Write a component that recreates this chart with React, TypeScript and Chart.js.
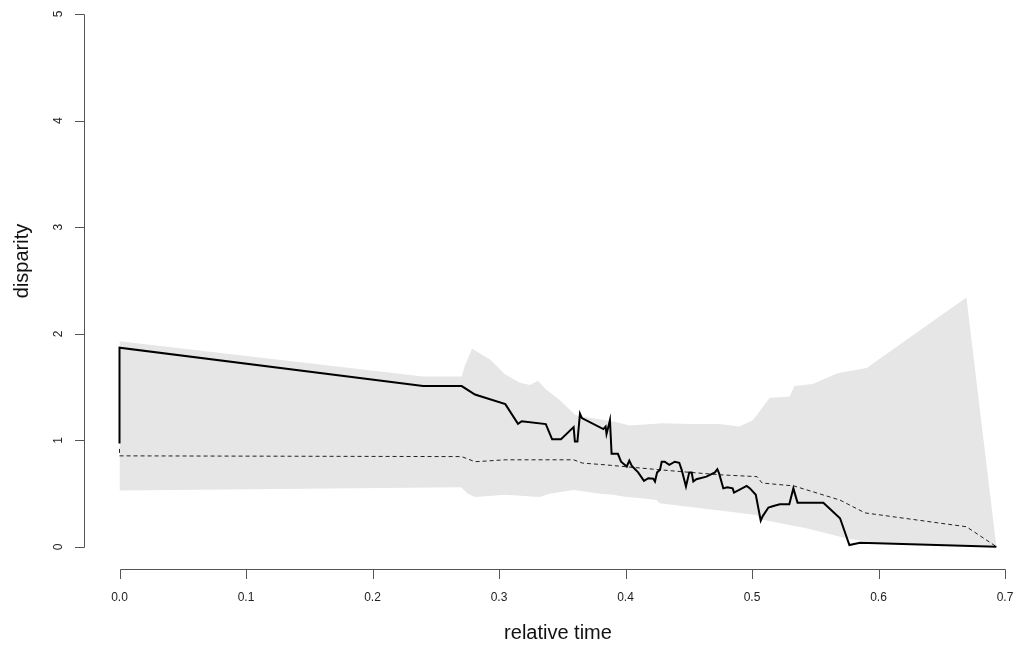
import React, { useEffect, useRef } from "react";
import { Chart, registerables } from "chart.js";

Chart.register(...registerables);

// ---- Data ----
const xTicks = [0, 0.1, 0.2, 0.3, 0.4, 0.5, 0.6, 0.7];
const xTickLabels = ["0.0", "0.1", "0.2", "0.3", "0.4", "0.5", "0.6", "0.7"];
const yTicks = [0, 1, 2, 3, 4, 5];
const yTickLabels = ["0", "1", "2", "3", "4", "5"];

// upper envelope of the grey band
const bandUpperX = [0, 0.24, 0.2705, 0.273, 0.2787, 0.293, 0.3047, 0.3166, 0.3245, 0.3308, 0.337, 0.348, 0.36, 0.3645, 0.39, 0.4034, 0.4295, 0.451, 0.4739, 0.4901, 0.5006, 0.5059, 0.514, 0.5297, 0.5336, 0.548, 0.5676, 0.5906, 0.6695, 0.6932];
const bandUpperY = [1.93, 1.6, 1.6, 1.7, 1.86, 1.76, 1.62, 1.54, 1.52, 1.56, 1.48, 1.38, 1.24, 1.225, 1.18, 1.14, 1.16, 1.155, 1.155, 1.13, 1.19, 1.27, 1.4, 1.41, 1.51, 1.53, 1.63, 1.68, 2.34, 0.0];

// lower envelope of the grey band
const bandLowerX = [0, 0.27, 0.2755, 0.281, 0.305, 0.332, 0.34, 0.359, 0.38, 0.39, 0.401, 0.411, 0.4245, 0.427, 0.4694, 0.5037, 0.5063, 0.543, 0.575, 0.601, 0.6275, 0.6932];
const bandLowerY = [0.53, 0.56, 0.5, 0.47, 0.49, 0.47, 0.5, 0.535, 0.5, 0.49, 0.47, 0.46, 0.44, 0.41, 0.35, 0.3, 0.26, 0.176, 0.08, 0.035, 0.02, 0.0];

// observed disparity (solid line)
const observedX = [0, 0, 0.24, 0.2705, 0.281, 0.305, 0.315, 0.318, 0.337, 0.342, 0.349, 0.359, 0.36, 0.362, 0.364, 0.3655, 0.3825, 0.3843, 0.385, 0.3865, 0.3877, 0.389, 0.394, 0.3965, 0.401, 0.403, 0.405, 0.41, 0.4146, 0.418, 0.422, 0.4233, 0.425, 0.4273, 0.4286, 0.431, 0.4346, 0.439, 0.4425, 0.4444, 0.4478, 0.4504, 0.4523, 0.4536, 0.456, 0.464, 0.4707, 0.4726, 0.474, 0.4773, 0.4805, 0.4847, 0.4858, 0.4958, 0.4984, 0.503, 0.5069, 0.5085, 0.513, 0.517, 0.522, 0.5295, 0.5327, 0.536, 0.5564, 0.5696, 0.577, 0.5854, 0.6932];
const observedY = [0.97, 1.87, 1.51, 1.51, 1.43, 1.34, 1.156, 1.18, 1.153, 1.01, 1.01, 1.125, 0.99, 0.99, 1.25, 1.21, 1.106, 1.13, 1.06, 1.13, 1.19, 0.874, 0.874, 0.8, 0.755, 0.81, 0.76, 0.7, 0.62, 0.645, 0.64, 0.614, 0.7, 0.724, 0.8, 0.8, 0.77, 0.8, 0.79, 0.724, 0.567, 0.7, 0.7, 0.614, 0.636, 0.66, 0.7, 0.73, 0.69, 0.55, 0.56, 0.55, 0.51, 0.573, 0.55, 0.49, 0.247, 0.29, 0.37, 0.385, 0.4, 0.4, 0.55, 0.416, 0.416, 0.27, 0.019, 0.04, 0.003];

// expected disparity (dashed line)
const expectedX = [0, 0, 0.2705, 0.281, 0.305, 0.359, 0.366, 0.385, 0.401, 0.443, 0.475, 0.504, 0.508, 0.533, 0.5696, 0.5893, 0.6695, 0.6932];
const expectedY = [0.92, 0.855, 0.848, 0.8, 0.818, 0.818, 0.787, 0.77, 0.752, 0.708, 0.677, 0.66, 0.6, 0.573, 0.44, 0.32, 0.19, 0.003];

const toPoints = (xs: number[], ys: number[]) => xs.map((x, i) => ({ x, y: ys[i] }));

const FONT = "'Liberation Sans', Arial, Helvetica, sans-serif";

const axesPlugin = {
  id: "rAxes",
  afterDraw(chart: any) {
    const { ctx, scales } = chart;
    const xs = scales.x;
    const ys = scales.y;
    const axisX = 84.5;
    const axisY = 569.5;
    ctx.save();
    ctx.strokeStyle = "#555555";
    ctx.lineWidth = 1;
    // y axis
    const y0 = Math.round(ys.getPixelForValue(yTicks[0])) + 0.5;
    const y1 = Math.round(ys.getPixelForValue(yTicks[yTicks.length - 1])) + 0.5;
    ctx.beginPath();
    ctx.moveTo(axisX, y0);
    ctx.lineTo(axisX, y1);
    yTicks.forEach((v) => {
      const py = Math.round(ys.getPixelForValue(v)) + 0.5;
      ctx.moveTo(axisX, py);
      ctx.lineTo(axisX - 9.5, py);
    });
    // x axis
    const x0 = Math.round(xs.getPixelForValue(xTicks[0])) + 0.5;
    const x1 = Math.round(xs.getPixelForValue(xTicks[xTicks.length - 1])) + 0.5;
    ctx.moveTo(x0, axisY);
    ctx.lineTo(x1, axisY);
    xTicks.forEach((v) => {
      const px = Math.round(xs.getPixelForValue(v)) + 0.5;
      ctx.moveTo(px, axisY);
      ctx.lineTo(px, axisY + 9.5);
    });
    ctx.stroke();

    ctx.fillStyle = "#222222";
    ctx.textAlign = "center";
    ctx.textBaseline = "middle";
    ctx.font = `12px ${FONT}`;
    xTicks.forEach((v, i) => {
      ctx.fillText(xTickLabels[i], xs.getPixelForValue(v), 598);
    });
    yTicks.forEach((v, i) => {
      ctx.save();
      ctx.translate(59, ys.getPixelForValue(v));
      ctx.rotate(-Math.PI / 2);
      ctx.fillText(yTickLabels[i], 0, 0);
      ctx.restore();
    });
    ctx.fillStyle = "#111111";
    ctx.font = `20px ${FONT}`;
    ctx.fillText("relative time", 558, 633);
    ctx.save();
    ctx.translate(22, 261);
    ctx.rotate(-Math.PI / 2);
    ctx.fillText("disparity", 0, 0);
    ctx.restore();
    ctx.restore();
  },
};

export default function App() {
  const ref = useRef<HTMLCanvasElement | null>(null);
  useEffect(() => {
    if (!ref.current) return;
    const bandPolygon = [
      ...toPoints(bandUpperX, bandUpperY),
      ...toPoints(bandLowerX, bandLowerY).reverse(),
    ];
    const chart = new Chart(ref.current, {
      type: "line",
      data: {
        datasets: [
          {
            label: "observed",
            data: toPoints(observedX, observedY),
            borderColor: "#000000",
            borderWidth: 2,
            pointRadius: 0,
            fill: false,
            tension: 0,
            order: 1,
            clip: false,
          } as any,
          {
            label: "expected",
            data: toPoints(expectedX, expectedY),
            borderColor: "#222222",
            borderWidth: 1,
            borderDash: [4, 3],
            pointRadius: 0,
            fill: false,
            tension: 0,
            order: 2,
            clip: false,
          } as any,
          {
            label: "band",
            data: bandPolygon,
            borderColor: "rgba(0,0,0,0)",
            borderWidth: 0,
            backgroundColor: "#e6e6e6",
            pointRadius: 0,
            fill: "shape",
            tension: 0,
            order: 3,
            clip: false,
          } as any,
        ],
      },
      options: {
        animation: false,
        responsive: false,
        events: [],
        layout: { padding: { left: 119.5, right: 13, top: 14, bottom: 99 } },
        plugins: {
          legend: { display: false },
          tooltip: { enabled: false },
          filler: { propagate: false },
        },
        scales: {
          x: { type: "linear", min: 0, max: 0.7, display: false },
          y: { type: "linear", min: 0, max: 5, display: false },
        },
      },
      plugins: [axesPlugin],
    });
    return () => chart.destroy();
  }, []);
  return (
    <div style={{ position: "fixed", left: 0, top: 0, width: 1018, height: 646, background: "#ffffff" }}>
      <canvas ref={ref} width={1018} height={646} style={{ display: "block" }} />
    </div>
  );
}
